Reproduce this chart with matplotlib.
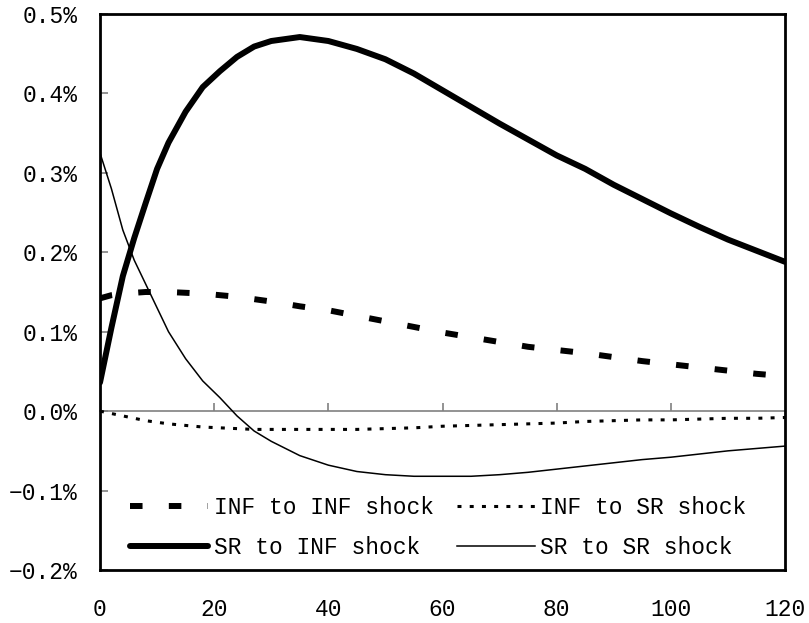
import matplotlib
matplotlib.use('Agg')
import matplotlib.pyplot as plt
import numpy as np

# horizon (periods) and impulse responses, in percent
periods = [0, 2, 4, 6, 8, 10, 12, 15, 18, 21, 24, 27, 30, 35, 40, 45, 50,
           55, 60, 65, 70, 75, 80, 85, 90, 95, 100, 105, 110, 115, 120]

inf_to_inf = [0.142, 0.146, 0.148, 0.149, 0.150, 0.150, 0.150, 0.149, 0.148,
              0.146, 0.144, 0.141, 0.138, 0.132, 0.127, 0.120, 0.113, 0.106,
              0.099, 0.093, 0.087, 0.081, 0.077, 0.073, 0.068, 0.063, 0.059,
              0.055, 0.051, 0.047, 0.044]

inf_to_sr = [0.000, -0.003, -0.006, -0.009, -0.012, -0.014, -0.016, -0.018,
             -0.020, -0.021, -0.022, -0.023, -0.023, -0.023, -0.023, -0.023,
             -0.022, -0.021, -0.019, -0.018, -0.017, -0.016, -0.015, -0.013,
             -0.012, -0.011, -0.011, -0.010, -0.009, -0.009, -0.008]

sr_to_inf = [0.036, 0.105, 0.170, 0.218, 0.262, 0.305, 0.338, 0.377, 0.408,
             0.428, 0.446, 0.459, 0.466, 0.471, 0.466, 0.456, 0.443, 0.425,
             0.404, 0.383, 0.362, 0.342, 0.322, 0.305, 0.285, 0.267, 0.249,
             0.232, 0.216, 0.202, 0.188]

sr_to_sr = [0.325, 0.280, 0.228, 0.190, 0.160, 0.130, 0.100, 0.066, 0.038,
            0.017, -0.006, -0.025, -0.038, -0.056, -0.068, -0.076, -0.080,
            -0.082, -0.082, -0.082, -0.080, -0.077, -0.073, -0.069, -0.065,
            -0.061, -0.058, -0.054, -0.050, -0.047, -0.044]

x_ticks = [0, 20, 40, 60, 80, 100, 120]
y_ticks = [-0.2, -0.1, 0.0, 0.1, 0.2, 0.3, 0.4, 0.5]
y_labels = ['\u22120.2%', '\u22120.1%', '0.0%', '0.1%', '0.2%', '0.3%', '0.4%', '0.5%']

plt.rcParams['font.family'] = ['Liberation Mono', 'DejaVu Sans Mono']
FS = 16.5

fig = plt.figure(figsize=(8.09, 6.23), dpi=100)
ax = fig.add_axes([100 / 809, 1 - 570 / 623, 685 / 809, 556 / 623])

l_ii, = ax.plot(periods, inf_to_inf, color='black', lw=4.3,
                linestyle=(0, (2.1, 4.4)), dash_capstyle='butt',
                label='INF to INF shock')
l_is, = ax.plot(periods, inf_to_sr, color='black', lw=2.2,
                linestyle=(0, (1.3, 2.7)), dash_capstyle='butt',
                label='INF to SR shock')
l_si, = ax.plot(periods, sr_to_inf, color='black', lw=4.3,
                solid_capstyle='round', label='SR to INF shock')
l_ss, = ax.plot(periods, sr_to_sr, color='black', lw=1.1,
                label='SR to SR shock')

ax.set_xlim(0, 120)
ax.set_ylim(-0.2, 0.5)

ax.set_xticks(x_ticks)
ax.tick_params(axis='x', length=0, pad=20, labelsize=FS)
ax.set_yticks(y_ticks)
ax.set_yticklabels(y_labels)
ax.tick_params(axis='y', direction='in', length=6, width=1.2,
               color='#808080', pad=16, labelsize=FS)

for s in ax.spines.values():
    s.set_linewidth(2)
    s.set_color('black')

# zero line with the period ticks on it
zero_ax = ax.secondary_xaxis(2 / 7)
zero_ax.set_xticks(x_ticks[1:-1])
zero_ax.tick_params(direction='in', length=6, width=1.2, color='#808080',
                    labelbottom=False, labeltop=False)
zero_ax.spines['bottom'].set_color('#808080')
zero_ax.spines['bottom'].set_linewidth(1.2)
zero_ax.spines['top'].set_visible(False)

ax.legend(handles=[l_ii, l_si, l_is, l_ss], ncol=2, frameon=False,
          loc='lower left', bbox_to_anchor=(0.044, 0.02),
          fontsize=FS, handlelength=3.4, handletextpad=0.25,
          columnspacing=1.0, labelspacing=0.75, borderpad=0,
          borderaxespad=0)

fig.savefig('out.png', dpi=100)
